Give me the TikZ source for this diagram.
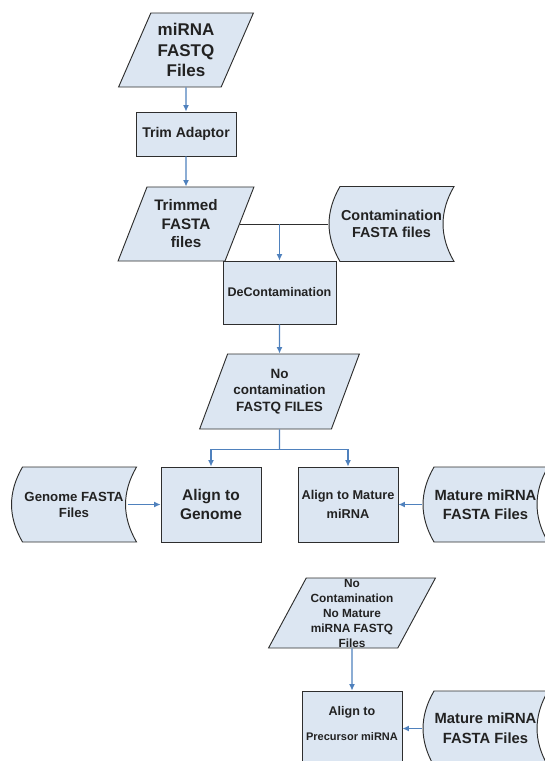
\documentclass[tikz,border=0pt]{standalone}
\usepackage{fontspec}
\setmainfont{Liberation Sans}
\usepackage{xcolor}
\usetikzlibrary{shapes.geometric,arrows.meta,positioning}
\definecolor{boxfill}{HTML}{DCE6F2}
\definecolor{boxline}{HTML}{2E2E2E}
\definecolor{flowblue}{HTML}{4F81BD}
\definecolor{txt}{HTML}{222222}

\begin{document}
\begin{tikzpicture}[x=0.03cm,y=-0.03cm,->,>={Latex[length=5.5pt,width=5pt]},auto]
	\tikzstyle{process}=[rectangle, draw=boxline, fill=boxfill, text=txt, line width=0.8pt, inner sep=0pt, minimum width=3cm, minimum height=2.25cm, align=center]
	\tikzstyle{data}=[trapezium, trapezium left angle=64, trapezium right angle=116, trapezium stretches=true, draw=boxline, fill=boxfill, text=txt, line width=0.8pt, inner sep=0pt, minimum width=4.08cm, minimum height=2.22cm, align=center]
	\tikzstyle{stored}=[rectangle, inner sep=0pt, text=txt, align=center, minimum width=3.81cm, minimum height=2.31cm,
		path picture={\draw[-, fill=boxfill, draw=boxline, line width=0.8pt]
			([shift={(12,-1)}]path picture bounding box.south west) to[bend left=30]
			([shift={(12,1)}]path picture bounding box.north west) --
			([shift={(-1,1)}]path picture bounding box.north east) to[bend right=30]
			([shift={(-1,-1)}]path picture bounding box.south east) -- cycle;}]
	\tikzstyle{every edge}=[draw=flowblue, line width=0.9pt]
	
	\useasboundingbox (0,0) rectangle (545,761);
	\clip (0,0) rectangle (545,761);
	
	% upper part
	\node[data, font=\bfseries\fontsize{14.5}{17.4}\selectfont] (fastq) at (186,50) {miRNA\\FASTQ\\Files};
	\node[process, minimum height=1.32cm, font=\bfseries\fontsize{12}{14}\selectfont] (trim) at (186,134) {Trim Adaptor};
	\node[data, font=\bfseries\fontsize{13}{15.8}\selectfont] (trimmed) at (186,224) {Trimmed\\FASTA\\files};
	\node[stored, font=\bfseries\fontsize{12.3}{15}\selectfont] (contam) at (391.5,224) {Contamination\\FASTA files};
	\node[process, minimum width=3.39cm, minimum height=1.89cm, font=\bfseries\fontsize{10.7}{13}\selectfont] (decon) at (279.5,292.5) {DeContamination};
	\node[data, minimum width=4.8cm, minimum height=2.25cm, trapezium left angle=61, trapezium right angle=119, font=\bfseries\fontsize{11.5}{14}\selectfont] (nocont) at (279.5,391.5) {No\\contamination\\FASTQ FILES};
	
	% alignment row
	\node[stored, font=\bfseries\fontsize{11.3}{13.6}\selectfont] (genome) at (74,504.5) {Genome FASTA\\Files};
	\node[process, font=\bfseries\fontsize{13.2}{16.5}\selectfont] (alngen) at (211,504.5) {Align to\\Genome};
	\node[process, font=\bfseries\fontsize{10.9}{15.6}\selectfont] (alnmat) at (348,504.5) {Align to Mature\\miRNA};
	\node[stored, font=\bfseries\fontsize{12.6}{16}\selectfont] (mature) at (485.5,504.5) {Mature miRNA\\FASTA Files};
	
	% precursor part
	\node[data, minimum width=5.01cm, minimum height=2.1cm, trapezium left angle=63.4, trapezium right angle=116.6, text depth=0pt, font=\bfseries\fontsize{10.1}{12.8}\selectfont] (nomat) at (352,613) {No\\Contamination\\No Mature\\miRNA FASTQ\\Files};
	\node[process, text depth=0.3cm, font=\bfseries\fontsize{10.7}{21}\selectfont] (alnpre) at (352,728.5) {Align to\\{\fontsize{9.4}{21}\selectfont Precursor miRNA}};
	\node[stored, font=\bfseries\fontsize{12.6}{17}\selectfont] (mature2) at (485.5,728.5) {Mature miRNA\\FASTA Files};
	
	\coordinate (split) at (decon |- trimmed);
	\coordinate (fork) at (279.5,449.3);
	
	\path (fastq) edge (trim);
	\path (trim) edge (trimmed);
	\draw[-, draw=boxline, line width=0.8pt] (trimmed) -- (contam);
	\path (split) edge (decon);
	\path (decon) edge (nocont);
	\draw[-, draw=flowblue, line width=0.9pt] (nocont) -- (fork);
	\draw[draw=flowblue, line width=0.9pt] (fork) -| (alngen);
	\draw[draw=flowblue, line width=0.9pt] (fork) -| (alnmat);
	\path ([xshift=-0.3cm]genome.east) edge (alngen);
	\path (mature) edge (alnmat);
	\path (nomat) edge (alnpre);
	\path (mature2) edge (alnpre);
	
\end{tikzpicture}
\end{document}
